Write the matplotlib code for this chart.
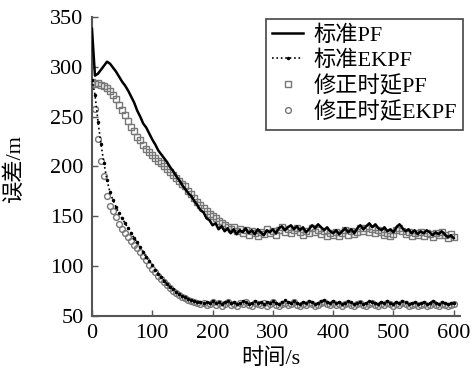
import numpy as np
import matplotlib
matplotlib.use("Agg")
import matplotlib.pyplot as plt

plt.rcParams['font.family'] = ['Liberation Serif', 'Noto Sans CJK SC']
plt.rcParams['axes.unicode_minus'] = False

# time axis, one sample every 5 s
time_s = np.arange(0, 605, 5)

std_pf = [
    338, 291, 293, 297, 301, 305, 303, 299, 295, 290,
    285, 281, 276, 270, 264, 256, 250, 243, 239, 233,
    227, 222, 216, 212, 208, 204, 199, 195, 190, 186,
    181, 177, 173, 170, 165, 161, 156, 154, 148, 146,
    141, 143, 137, 140, 135, 138, 133, 137, 132, 136,
    134, 138, 133, 136, 132, 137, 134, 131, 136, 134,
    137, 133, 138, 140, 136, 139, 141, 137, 140, 136,
    139, 134, 137, 141, 138, 142, 139, 136, 139, 135,
    133, 136, 132, 135, 138, 134, 137, 133, 138, 141,
    137, 140, 143, 139, 142, 138, 136, 139, 135, 137,
    134, 139, 142, 138, 135, 137, 133, 136, 132, 135,
    133, 136, 134, 131, 134, 132, 135, 132, 129, 131,
    128,
]

std_ekpf = [
    287, 272, 245, 222, 203, 186, 174, 166, 159, 153,
    148, 143, 138, 133, 128, 124, 119, 114, 109, 105,
    101, 96, 92, 89, 85, 82, 79, 77, 74, 72,
    70, 69, 67, 66, 65, 64, 64, 63, 64, 63,
    65, 63, 64, 62, 64, 65, 63, 64, 62, 63,
    65, 64, 62, 63, 65, 63, 64, 62, 64, 63,
    65, 63, 62, 64, 66, 64, 63, 65, 63, 62,
    64, 63, 65, 64, 62, 63, 65, 66, 64, 63,
    65, 63, 64, 62, 63, 65, 64, 62, 63, 64,
    62, 63, 65, 64, 63, 62, 64, 63, 65, 63,
    62, 64, 63, 65, 64, 62, 63, 64, 62, 63,
    64, 62, 63, 65, 63, 62, 64, 63, 62, 63,
    63,
]

mod_pf = [
    285, 283, 284, 282, 281, 279, 276, 272, 268, 262,
    257, 252, 246, 240, 236, 230, 226, 221, 217, 214,
    211, 208, 205, 203, 200, 197, 194, 191, 188, 185,
    182, 180, 175, 172, 168, 164, 161, 158, 155, 152,
    150, 148, 145, 143, 141, 139, 137, 139, 135, 137,
    133, 136, 131, 135, 133, 130, 134, 132, 137, 133,
    135, 131, 136, 139, 134, 137, 133, 136, 138, 134,
    131, 135, 133, 138, 134, 136, 132, 135, 130, 133,
    131, 134, 130, 133, 136, 131, 135, 132, 134, 138,
    135, 138, 134, 137, 133, 136, 134, 131, 133, 130,
    132, 136, 138, 135, 132, 134, 130, 133, 131, 134,
    130, 133, 132, 129, 133, 131, 134, 131, 128, 132,
    129,
]

mod_ekpf = [
    284, 258, 228, 205, 190, 170, 160, 155, 149, 142,
    137, 133, 129, 125, 121, 118, 114, 110, 106, 101,
    97, 94, 90, 87, 84, 81, 78, 75, 73, 71,
    69, 68, 66, 65, 64, 63, 62, 63, 61, 62,
    64, 61, 63, 60, 62, 64, 61, 62, 60, 63,
    62, 64, 61, 60, 63, 62, 61, 63, 60, 62,
    64, 61, 60, 62, 63, 61, 62, 64, 61, 60,
    62, 61, 63, 62, 60, 61, 63, 64, 62, 61,
    63, 61, 62, 60, 62, 63, 61, 60, 62, 63,
    61, 60, 62, 63, 61, 60, 62, 61, 63, 62,
    60, 62, 61, 63, 62, 60, 61, 62, 60, 61,
    62, 60, 61, 63, 61, 60, 62, 61, 60, 61,
    62,
]

labels = ['标准PF', '标准EKPF', '修正时延PF', '修正时延EKPF']

fig = plt.figure(figsize=(4.74, 3.74), dpi=100)
ax = fig.add_axes([0.194, 0.155, 0.776, 0.80])

ax.plot(time_s, mod_pf, 's', ms=4, mfc='none', mec='#777777', mew=1.0, label=labels[2], zorder=2)
ax.plot(time_s, mod_ekpf, 'o', ms=4.2, mfc='none', mec='#777777', mew=1.0, label=labels[3], zorder=2)
ax.plot(time_s, std_pf, '-', color='black', lw=1.8, label=labels[0], zorder=3)
ax.plot(time_s, std_ekpf, ':', color='black', lw=1.2, marker='.', ms=3, label=labels[1], zorder=3)

ax.set_xlim(0, 610)
ax.set_ylim(50, 350)
ax.set_xticks(range(0, 601, 100))
ax.set_yticks(range(50, 351, 50))
ax.tick_params(direction='in', length=4, width=1, colors='#555555', labelcolor='black',
               labelsize=16, pad=6)
for side in ['top', 'right']:
    ax.spines[side].set_visible(False)
for side in ['left', 'bottom']:
    ax.spines[side].set_color('#555555')
    ax.spines[side].set_linewidth(1.5)

ax.set_xlabel('时间/s', fontsize=16)
ax.set_ylabel('误差/m', fontsize=16)
ax.xaxis.set_label_coords(0.487, -0.108)
ax.yaxis.set_label_coords(-0.183, 0.49)

h, l = ax.get_legend_handles_labels()
order = [2, 3, 0, 1]
leg = ax.legend([h[i] for i in order], [l[i] for i in order],
                loc='upper right', bbox_to_anchor=(1.01, 0.993), borderaxespad=0,
                fontsize=16, fancybox=False, edgecolor='#444444', framealpha=1,
                handlelength=1.4, handletextpad=0.45, labelspacing=0.2, borderpad=0.3)
leg.get_frame().set_linewidth(1.2)

fig.savefig('out.png', dpi=100)
